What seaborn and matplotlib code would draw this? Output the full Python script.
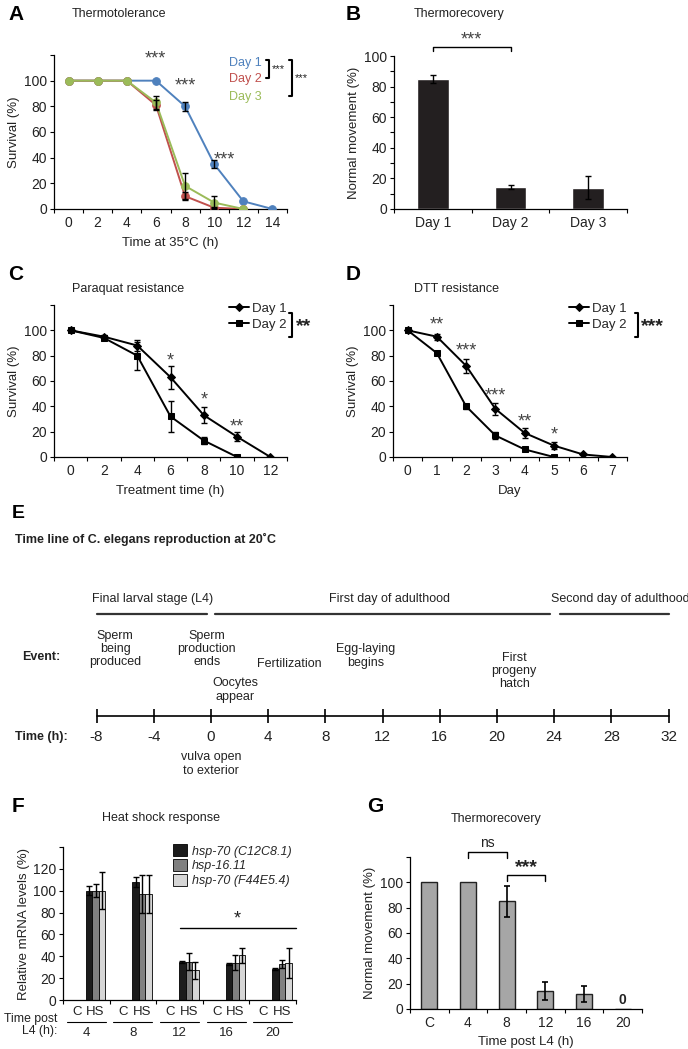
import numpy as np
import pandas as pd
import matplotlib
matplotlib.use('Agg')
import matplotlib.pyplot as plt
import matplotlib.transforms as mtransforms
from matplotlib.patches import Patch
import seaborn as sns

# ---------------- data ----------------
# A: thermotolerance (survival % vs hours at 35C)
thermo_hours = [0, 2, 4, 6, 8, 10, 12, 14]
thermo_day1 = [100, 100, 100, 100, 80, 35, 6, 0]
thermo_day1_err = [0, 0, 0, 0, 3.5, 3, 0, 0]
thermo_day2 = [100, 100, 100, 81, 10, 1, 0]
thermo_day2_err = [0, 0, 0, 4, 3, 0.5, 0]
thermo_day3 = [100, 100, 100, 83, 18, 5, 0]
thermo_day3_err = [0, 0, 0, 5, 10, 5, 0]
thermo_stars = [(5.95, 117, '***'), (8.0, 96, '***'), (10.7, 38, '***')]

# B: thermorecovery by day
recovery_days = ['Day 1', 'Day 2', 'Day 3']
recovery_values = [85, 14.5, 14]
recovery_err = [2.5, 1.5, 7.5]

# C: paraquat resistance
paraquat_hours = [0, 2, 4, 6, 8, 10, 12]
paraquat_day1 = [100, 95, 88, 63, 33, 16, 0]
paraquat_day1_err = [0, 1.5, 4.5, 9, 6.5, 3.5, 0]
paraquat_day2 = [100, 94, 80, 32, 13, 0]
paraquat_day2_err = [0, 1.5, 11, 12, 3, 0]
paraquat_stars = [(6, 76, '*'), (8, 45, '*'), (10, 24, '**')]

# D: DTT resistance
dtt_days = [0, 1, 2, 3, 4, 5, 6, 7]
dtt_day1 = [100, 95, 72, 38, 19, 9, 2, 0]
dtt_day1_err = [0, 2.5, 5.5, 4.5, 4, 3, 0, 0]
dtt_day2 = [100, 82, 40, 17, 6, 0]
dtt_day2_err = [0, 1, 2, 3, 1.5, 0]
dtt_stars = [(1, 104, '**'), (2, 84, '***'), (3, 48, '***'), (4, 28, '**'), (5, 17, '*')]

# E: timeline
time_ticks = [-8, -4, 0, 4, 8, 12, 16, 20, 24, 28, 32]
phase_labels = ['Final larval stage (L4)', 'First day of adulthood', 'Second day of adulthood']
phase_start = [-8, 0.3, 24.4]
phase_end = [-0.3, 23.7, 32]
phase_center = [-4.1, 12.5, 28.6]
event_labels = ['Sperm\nbeing\nproduced', 'Sperm\nproduction\nends', 'Fertilization',
                'Oocytes\nappear', 'Egg-laying\nbegins', 'First\nprogeny\nhatch',
                'vulva open\nto exterior']
event_hours = [-6.7, -0.3, 5.5, 1.7, 10.8, 21.2, 0]
event_ypix = [649, 649, 664, 690, 656, 671, 764]

# F: heat shock response
hs_timepoints = ['4', '8', '12', '16', '20']
hs_genes = ['hsp-70 (C12C8.1)', 'hsp-16.11', 'hsp-70 (F44E5.4)']
hs_control = [0, 0, 0, 0, 0]
hsp70a_hs = [100, 108, 35, 33, 28]
hsp70a_err = [4, 5, 1, 1, 1]
hsp16_hs = [100, 97, 35, 34, 33]
hsp16_err = [6, 17, 8, 7, 4]
hsp70b_hs = [100, 97, 27, 41, 34]
hsp70b_err = [17, 17, 8, 7, 14]

# G: thermorecovery by time post L4
g_labels = ['C', '4', '8', '12', '16', '20']
g_values = [100, 100, 85, 14, 12, 0]
g_err = [0, 0, 12, 7, 6.5, 0]

# ---------------- figure ----------------
sns.set_theme(style='ticks')
plt.rcParams['font.family'] = ['Liberation Sans', 'DejaVu Sans']
plt.rcParams['axes.linewidth'] = 0.9
plt.rcParams['axes.edgecolor'] = 'black'

W, H = 688, 1049
fig = plt.figure(figsize=(W / 100, H / 100), dpi=100)
fig.patch.set_facecolor('white')

TICK_FS = 10
LABEL_FS = 9.5
TITLE_FS = 9
TXT = '#222222'
STAR = '#444444'


def px_axes(left, top, right, bottom):
    return fig.add_axes([left / W, 1 - bottom / H, (right - left) / W, (bottom - top) / H])


def ftext(px, py, s, **kw):
    kw.setdefault('va', 'center')
    kw.setdefault('color', TXT)
    fig.text(px / W, 1 - py / H, s, **kw)


def base_style(ax, yticks, ylabels):
    sns.despine(ax=ax)
    ax.set_facecolor('white')
    ax.set_yticks(yticks)
    ax.set_yticklabels(ylabels)
    ax.tick_params(axis='both', which='both', direction='out', width=0.8, color='black',
                   labelsize=TICK_FS, labelcolor=TXT)
    ax.tick_params(axis='y', which='major', length=3, pad=2)
    ax.tick_params(axis='x', which='major', length=0, pad=5)
    ax.tick_params(axis='x', which='minor', length=3)


def errbars(ax, x, y, e, color='black', lw=1.0, cap=2):
    pts = [(a, b, c) for a, b, c in zip(x, y, e) if c > 0]
    if pts:
        xs, ys, es = zip(*pts)
        ax.errorbar(xs, ys, yerr=es, fmt='none', ecolor=color, elinewidth=lw,
                    capsize=cap, capthick=lw, zorder=4)


def bracket(ax, x0, x1, y, leg, lw=1.0):
    ax.plot([x0, x0, x1, x1], [y - leg, y, y, y - leg], color='black', lw=lw, clip_on=False)


def vbracket(ax, x, y0, y1, tick, lw=1.5):
    ax.plot([x - tick, x, x, x - tick], [y0, y0, y1, y1], color='black', lw=lw, clip_on=False)


y120 = list(range(0, 121, 20))
y120_lab = [str(v) for v in y120[:-1]] + ['']

# ---- A ----
axA = px_axes(54, 55, 287, 209)
colors_A = ['#4f81bd', '#c0504d', '#9bbb59']
series_A = [(thermo_day1, thermo_day1_err), (thermo_day2, thermo_day2_err), (thermo_day3, thermo_day3_err)]
for (vals, errs), col in zip(series_A, colors_A):
    hrs = thermo_hours[:len(vals)]
    sns.lineplot(x=hrs, y=vals, ax=axA, color=col, marker='o', markersize=5.5,
                 markeredgecolor=col, linewidth=1.4, zorder=3)
for (vals, errs) in series_A:
    errbars(axA, thermo_hours[:len(vals)], vals, errs)
axA.set_xlim(-1, 15)
axA.set_ylim(0, 120)
base_style(axA, y120, y120_lab)
axA.set_xticks(range(0, 15, 2))
axA.set_xticks(np.arange(-1, 16, 2), minor=True)
axA.set_ylabel('Survival (%)', fontsize=LABEL_FS, color=TXT, labelpad=3)
axA.set_xlabel('Time at 35°C (h)', fontsize=LABEL_FS, color=TXT, labelpad=5)
for x, y, s in thermo_stars:
    axA.text(x, y, s, ha='center', va='center', fontsize=13, color=STAR, clip_on=False)
for lab, col, y in zip(['Day 1', 'Day 2', 'Day 3'], colors_A, [114, 101, 87]):
    axA.text(11.0, y, lab, color=col, fontsize=9, ha='left', va='center')
vbracket(axA, 13.75, 116, 102, 0.2)
axA.text(13.95, 109, '***', fontsize=8, ha='left', va='center', color=TXT)
vbracket(axA, 15.35, 116, 88, 0.2)
axA.text(15.55, 102, '***', fontsize=8, ha='left', va='center', color=TXT, clip_on=False)

# ---- B ----
axB = px_axes(394, 56, 627, 209)
sns.barplot(x=recovery_days, y=recovery_values, ax=axB, color='#231f20', saturation=1,
            width=0.41, errorbar=None)
errbars(axB, range(len(recovery_values)), recovery_values, recovery_err)
axB.set_xlim(-0.5, 2.5)
axB.set_ylim(0, 100)
base_style(axB, range(0, 101, 20), [str(v) for v in range(0, 101, 20)])
axB.set_yticks(range(10, 100, 20), minor=True)
axB.tick_params(axis='y', which='minor', length=3)
axB.set_xticks(np.arange(-0.5, 3, 1), minor=True)
axB.set_ylabel('Normal movement (%)', fontsize=LABEL_FS, color=TXT, labelpad=3)
bracket(axB, 0, 1, 106, 2.5)
axB.text(0.5, 110.5, '***', ha='center', va='center', fontsize=13, color=STAR, clip_on=False)


# ---- C and D ----
def resistance_panel(ax, x1, v1, e1, x2, v2, e2):
    sns.lineplot(x=x1, y=v1, ax=ax, color='black', marker='D', markersize=3.8,
                 markeredgecolor='black', linewidth=1.4, label='Day 1', zorder=3)
    sns.lineplot(x=x2, y=v2, ax=ax, color='black', marker='s', markersize=4.2,
                 markeredgecolor='black', linewidth=1.4, label='Day 2', zorder=3)
    errbars(ax, x1, v1, e1)
    errbars(ax, x2, v2, e2)
    ax.set_ylim(0, 120)
    base_style(ax, y120, y120_lab)
    ax.set_ylabel('Survival (%)', fontsize=LABEL_FS, color=TXT, labelpad=3)
    ax.legend(loc='upper left', bbox_to_anchor=(0.73, 1.05), frameon=False, fontsize=9.5,
              handlelength=1.5, handletextpad=0.2, labelspacing=0.3, borderaxespad=0)


axC = px_axes(54, 305, 287, 457)
resistance_panel(axC, paraquat_hours, paraquat_day1, paraquat_day1_err,
                 paraquat_hours[:len(paraquat_day2)], paraquat_day2, paraquat_day2_err)
axC.set_xlim(-1, 13)
axC.set_xticks(range(0, 13, 2))
axC.set_xticks(np.arange(-1, 14, 2), minor=True)
axC.set_xlabel('Treatment time (h)', fontsize=LABEL_FS, color=TXT, labelpad=5)
for x, y, s in paraquat_stars:
    axC.text(x, y, s, ha='center', va='center', fontsize=13, color=STAR)
vbracket(axC, 13.3, 114, 95, 0.18)
axC.text(13.55, 103, '**', fontsize=14, fontweight='bold', ha='left', va='center', color=TXT)

axD = px_axes(393, 305, 627, 457)
resistance_panel(axD, dtt_days, dtt_day1, dtt_day1_err,
                 dtt_days[:len(dtt_day2)], dtt_day2, dtt_day2_err)
axD.set_xlim(-0.5, 7.5)
axD.set_xticks(range(0, 8))
axD.set_xticks(np.arange(-0.5, 8, 1), minor=True)
axD.set_xlabel('Day', fontsize=LABEL_FS, color=TXT, labelpad=5)
for x, y, s in dtt_stars:
    axD.text(x, y, s, ha='center', va='center', fontsize=13, color=STAR, clip_on=False)
vbracket(axD, 7.86, 114, 95, 0.09)
axD.text(7.98, 103, '***', fontsize=14, fontweight='bold', ha='left', va='center',
         color=TXT, clip_on=False)

# ---- E: timeline ----
HOUR_PX = 14.3
ZERO_PX = 211
axE = px_axes(0, 500, W, 790)
axE.set_xlim(-ZERO_PX / HOUR_PX, (W - ZERO_PX) / HOUR_PX)
axE.set_ylim(790, 500)
axE.axis('off')
axE.plot([time_ticks[0], time_ticks[-1]], [716, 716], color='black', lw=1.2)
axE.vlines(time_ticks, 709, 723, color='black', lw=1.2)
for t in time_ticks:
    axE.text(t, 737, str(t), ha='center', va='center', fontsize=11, color=TXT)
for lab, s, e, c in zip(phase_labels, phase_start, phase_end, phase_center):
    axE.plot([s, e], [614, 614], color='#333333', lw=1.6)
    axE.text(c, 599, lab, ha='center', va='center', fontsize=9, color=TXT, clip_on=False)
for lab, h, yp in zip(event_labels, event_hours, event_ypix):
    axE.text(h, yp, lab, ha='center', va='center', fontsize=9, color=TXT, linespacing=1.15)
ftext(12, 513, 'E', fontsize=14, fontweight='bold', color='black')
ftext(15, 539, 'Time line of C. elegans reproduction at 20˚C', fontsize=9, fontweight='bold')
ftext(22, 657, 'Event:', fontsize=9, fontweight='bold')
ftext(15, 737, 'Time (h):', fontsize=9, fontweight='bold')

# ---- F ----
axF = px_axes(63, 847, 296, 1000)
hs_colors = ['#1c1c1c', '#808080', '#d6d6d6']
hs_series = [(hsp70a_hs, hsp70a_err), (hsp16_hs, hsp16_err), (hsp70b_hs, hsp70b_err)]
treat_offset = {'C': -0.2, 'HS': 0.2}
rows = []
for gene, (vals, errs) in zip(hs_genes, hs_series):
    for i, tp in enumerate(hs_timepoints):
        rows.append({'pos': i + treat_offset['C'], 'gene': gene, 'value': hs_control[i]})
        rows.append({'pos': i + treat_offset['HS'], 'gene': gene, 'value': vals[i]})
hs_df = pd.DataFrame(rows)
sns.barplot(data=hs_df, x='pos', y='value', hue='gene', hue_order=hs_genes,
            palette=hs_colors, native_scale=True, width=1.05, saturation=1,
            edgecolor='black', linewidth=0.6, errorbar=None, legend=False, ax=axF)
bar_w = 0.14
for k, (vals, errs) in enumerate(hs_series):
    xs = [i + treat_offset['HS'] + (k - 1) * bar_w for i in range(len(hs_timepoints))]
    errbars(axF, xs, vals, errs, lw=1.0, cap=2)
axF.set_xlim(-0.5, 4.5)
axF.set_ylim(0, 140)
base_style(axF, range(0, 141, 20), [str(v) for v in range(0, 121, 20)] + [''])
axF.set_xticks([])
axF.set_xticks(np.arange(-0.5, 5, 1), minor=True)
axF.set_xlabel('')
axF.set_ylabel('Relative mRNA levels (%)', fontsize=LABEL_FS, color=TXT, labelpad=2)
handles = [Patch(facecolor=c, edgecolor='black', linewidth=0.6) for c in hs_colors]
axF.legend(handles, hs_genes, loc='upper left', bbox_to_anchor=(0.45, 1.05), frameon=False,
           prop={'style': 'italic', 'size': 9}, handlelength=1.1, handleheight=1.1,
           handletextpad=0.4, labelspacing=0.12, borderaxespad=0)
axF.plot([2.0, 4.5], [66, 66], color='black', lw=1.0, clip_on=False)
axF.text(3.23, 74, '*', ha='center', va='center', fontsize=13, color=TXT)
trF = mtransforms.blended_transform_factory(axF.transData, axF.transAxes)
for i, tp in enumerate(hs_timepoints):
    for treat, off in treat_offset.items():
        axF.text(i + off, -0.08, treat, transform=trF, ha='center', va='center',
                 fontsize=9.5, color=TXT)
    axF.plot([i - 0.42, i + 0.42], [-0.145, -0.145], transform=trF, color='black',
             lw=0.8, clip_on=False)
    axF.text(i, -0.215, tp, transform=trF, ha='center', va='center', fontsize=9.5, color=TXT)
ftext(57, 1025, 'Time post\nL4 (h):', ha='right', fontsize=8.8, linespacing=1.1)

# ---- G ----
axG = px_axes(410, 857, 642, 1009)
sns.barplot(x=g_labels, y=g_values, ax=axG, color='#a6a6a6', saturation=1, width=0.41,
            edgecolor='#222222', linewidth=1.0, errorbar=None)
errbars(axG, range(len(g_values)), g_values, g_err, lw=1.2, cap=2.5)
axG.set_xlim(-0.5, 5.5)
axG.set_ylim(0, 120)
base_style(axG, y120, y120_lab)
axG.set_xticks(np.arange(-0.5, 6, 1), minor=True)
axG.set_ylabel('Normal movement (%)', fontsize=LABEL_FS, color=TXT, labelpad=3)
axG.set_xlabel('Time post L4 (h)', fontsize=LABEL_FS, color=TXT, labelpad=4)
bracket(axG, 1, 2, 124, 5)
axG.text(1.5, 131, 'ns', ha='center', va='center', fontsize=10, color=TXT, clip_on=False)
bracket(axG, 2, 3, 106, 5)
axG.text(2.5, 112, '***', ha='center', va='center', fontsize=14, fontweight='bold', color=TXT)
axG.text(5, 7, '0', ha='center', va='center', fontsize=10, fontweight='bold', color=TXT)

# ---- titles and panel letters ----
for lbl, x, y in [('A', 8, 14), ('B', 346, 14), ('C', 8, 275), ('D', 346, 275),
                  ('F', 12, 807), ('G', 367, 807)]:
    ftext(x, y, lbl, fontsize=15, fontweight='bold', color='black')
for title, x, y in [('Thermotolerance', 72, 14), ('Thermorecovery', 414, 14),
                    ('Paraquat resistance', 72, 289), ('DTT resistance', 414, 289),
                    ('Heat shock response', 102, 818), ('Thermorecovery', 451, 819)]:
    ftext(x, y, title, fontsize=TITLE_FS)

fig.savefig('out.png', dpi=100, facecolor='white')
